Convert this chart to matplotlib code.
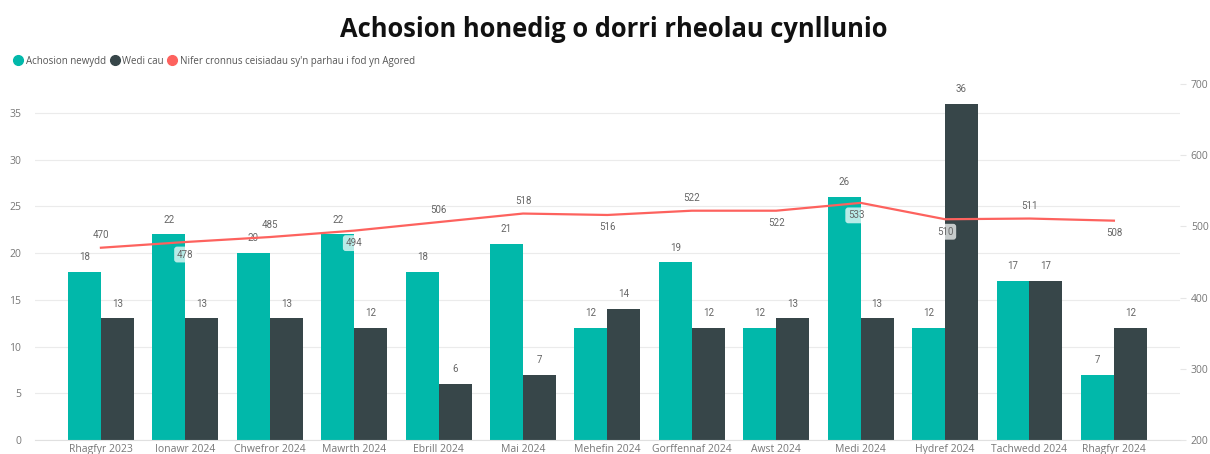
import matplotlib.pyplot as plt
import numpy as np
from matplotlib.lines import Line2D

months = ['Rhagfyr 2023', 'Ionawr 2024', 'Chwefror 2024', 'Mawrth 2024', 'Ebrill 2024',
          'Mai 2024', 'Mehefin 2024', 'Gorffennaf 2024', 'Awst 2024', 'Medi 2024',
          'Hydref 2024', 'Tachwedd 2024', 'Rhagfyr 2024']
new_cases = [18, 22, 20, 22, 18, 21, 12, 19, 12, 26, 12, 17, 7]
closed = [13, 13, 13, 12, 6, 7, 14, 12, 13, 13, 36, 17, 12]
open_total = [470, 478, 485, 494, 506, 518, 516, 522, 522, 533, 510, 511, 508]
# label placement for the line: +1 above, -1 below, boxed if it sits on a bar
line_pos = [1, -1, 1, -1, 1, 1, -1, 1, -1, -1, -1, 1, -1]
line_box = [False, True, False, True, False, False, False, False, False, True, True, False, False]

TEAL = '#01B8AA'
DARK = '#374649'
RED = '#FD625E'
GREY = '#777777'

plt.rcParams['font.family'] = ['Open Sans', 'DejaVu Sans']

fig = plt.figure(figsize=(12.1, 4.54), dpi=100)
ax = fig.add_axes([0.029, 0.031, 0.946, 0.784])
ax2 = ax.twinx()

x = np.arange(len(months))
w = 0.39
b1 = ax.bar(x - w / 2, new_cases, w, color=TEAL, zorder=2)
b2 = ax.bar(x + w / 2, closed, w, color=DARK, zorder=2)

for rect, v in list(zip(b1, new_cases)) + list(zip(b2, closed)):
    ax.annotate(str(v), (rect.get_x() + rect.get_width() / 2, v), xytext=(0, 7),
                textcoords='offset points', ha='center', va='bottom',
                fontsize=7, color='#666666', family=['Roboto', 'DejaVu Sans'])

ax.set_xlim(-0.78, 12.78)
ax.set_ylim(0, 38.1)
ax.set_yticks(range(0, 36, 5))
ax.grid(axis='y', color='#ebebeb', linewidth=0.8, zorder=0)
ax.set_axisbelow(True)
ax.set_xticks(x)
ax.set_xticklabels(months, fontsize=7.5, color=GREY)
ax.tick_params(axis='x', length=0, pad=3)
ax.tick_params(axis='y', length=0, labelsize=7.5, labelcolor=GREY, pad=10)
for s in ax.spines.values():
    s.set_visible(False)
ax.spines['bottom'].set_visible(True)
ax.spines['bottom'].set_color('#e0e0e0')

ax2.plot(x, open_total, color=RED, linewidth=1.6, zorder=3)
ax2.set_ylim(200, 700)
ax2.set_yticks(range(200, 701, 100))
ax2.tick_params(axis='y', length=4, color='#e6e6e6', labelsize=7.5, labelcolor=GREY, pad=4)
for s in ax2.spines.values():
    s.set_visible(False)

for i, (v, p, box) in enumerate(zip(open_total, line_pos, line_box)):
    dx = -3 if i == 9 else 0
    bbox = dict(boxstyle='round,pad=0.3', fc='white', ec='none', alpha=0.72) if box else None
    ax2.annotate(str(v), (i, v), xytext=(dx, 9 * p), textcoords='offset points',
                 ha='center', va='center', fontsize=7, color='#666666',
                 family=['Roboto', 'DejaVu Sans'], bbox=bbox, zorder=4)

fig.suptitle('Achosion honedig o dorri rheolau cynllunio', x=0.507, y=0.965,
             fontsize=18.4, fontweight='bold', color='#111111')

handles = [Line2D([], [], marker='o', linestyle='none', markersize=7, color=c)
           for c in (TEAL, DARK, RED)]
fig.legend(handles, ['Achosion newydd', 'Wedi cau',
                     "Nifer cronnus ceisiadau sy'n parhau i fod yn Agored"],
           loc='center left', bbox_to_anchor=(0.004, 0.865), ncol=3, frameon=False,
           fontsize=7, handletextpad=0.25, columnspacing=0.4, handlelength=1.0,
           labelcolor='#555555')

fig.savefig('out.png', dpi=100)
